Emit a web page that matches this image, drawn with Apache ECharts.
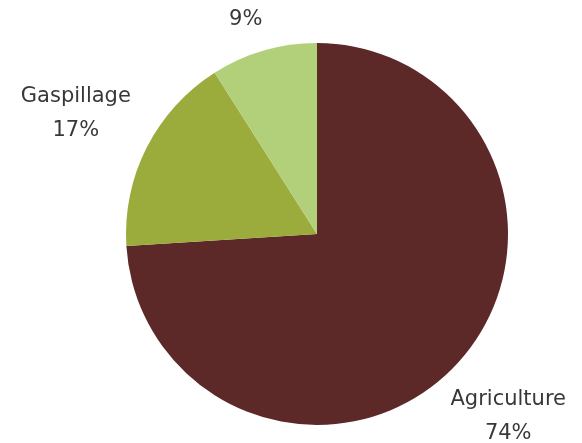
<!DOCTYPE html>
<html><head><meta charset="utf-8">
<script src="https://cdn.jsdelivr.net/npm/echarts@6/dist/echarts.min.js"></script>
<style>html,body{margin:0;padding:0;background:#fff}#c{width:582px;height:443px}</style>
</head><body><div id="c"></div>
<script>
const categories = ['Agriculture', 'Gaspillage', 'Transformation'];
const values = [74, 17, 9];
const colors = ['#5c2828', '#9bab3c', '#b2d07a'];
const labelShift = [[-18, 52], [-1, -34], [52, -48]];

const chart = echarts.init(document.getElementById('c'), null, {renderer: 'canvas'});
chart.setOption({
  animation: false,
  series: [{
    type: 'pie',
    center: [317, 234],
    radius: 191,
    startAngle: 90,
    clockwise: true,
    avoidLabelOverlap: false,
    data: categories.map((n, i) => ({name: n, value: values[i], itemStyle: {color: colors[i]}})),
    label: {
      show: true,
      position: 'outside',
      distanceToLabelLine: 0,
      overflow: 'none',
      formatter: p => '{t|' + p.name + '}\n{t|' + p.value + '%}',
      rich: {
        t: {
          width: 140,
          align: 'center',
          color: '#383838',
          fontFamily: 'DejaVu Sans',
          fontSize: 21,
          lineHeight: 34
        }
      }
    },
    labelLine: {show: false, length: 0, length2: 0},
    labelLayout: p => ({dx: labelShift[p.dataIndex][0], dy: labelShift[p.dataIndex][1]})
  }]
});
</script></body></html>
